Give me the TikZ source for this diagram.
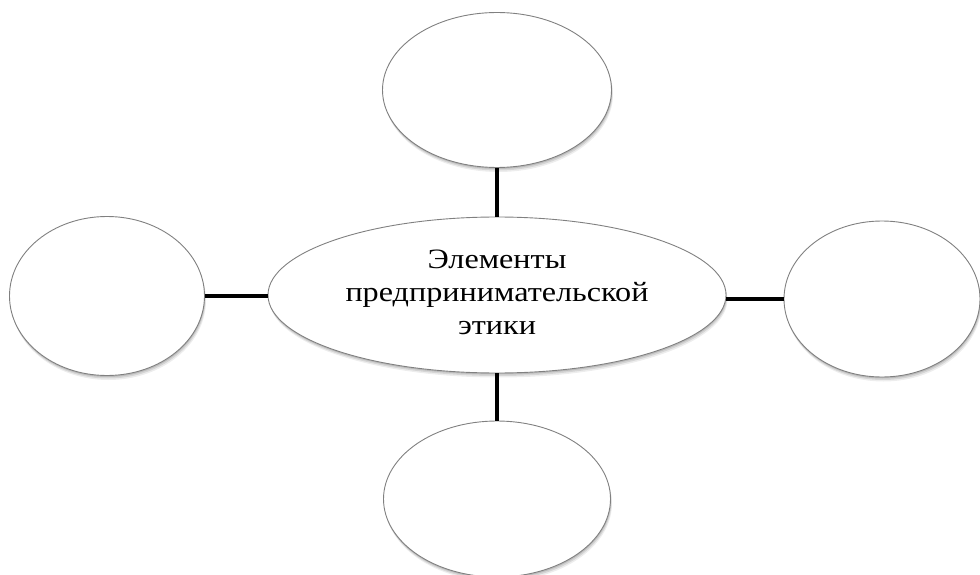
\documentclass[tikz,border=0pt]{standalone}
\usepackage{fontspec}
\setmainfont{Liberation Serif}
\usetikzlibrary{shapes.geometric,shadows}
\begin{document}
\begin{tikzpicture}[x=1pt,y=-1pt,
  bubble/.style={ellipse, draw=black!50, line width=0.9pt, fill=white, inner sep=0pt,
    drop shadow={shadow xshift=0.5pt, shadow yshift=-1.5pt, opacity=0.12, fill=black},
    drop shadow={shadow xshift=1pt, shadow yshift=-3pt, opacity=0.10, fill=black},
    drop shadow={shadow xshift=1.5pt, shadow yshift=-4.5pt, opacity=0.07, fill=black}},
  link/.style={line width=4.5pt, black}]
\useasboundingbox (0,0) rectangle (980,575);
\node[bubble, minimum width=458pt, minimum height=156pt, align=center] (c) at (497,295)
  {\raisebox{-2pt}{\scalebox{1.15}[1]{\fontsize{28}{33}\selectfont\begin{tabular}{@{}c@{}}Элементы\\предпринимательской\\этики\end{tabular}}}};
\node[bubble, minimum width=229pt, minimum height=155pt] (t) at (497,90) {};
\node[bubble, minimum width=195pt, minimum height=159pt] (l) at (107,296) {};
\node[bubble, minimum width=196pt, minimum height=156pt] (r) at (882,299) {};
\node[bubble, minimum width=227pt, minimum height=156pt] (b) at (497,499) {};
\draw[link] (t.south) -- (c.north);
\draw[link] (c.south) -- (b.north);
\draw[link] (l.east) -- (l.east -| c.west);
\draw[link] (r.west -| c.east) -- (r.west);
\end{tikzpicture}
\end{document}
